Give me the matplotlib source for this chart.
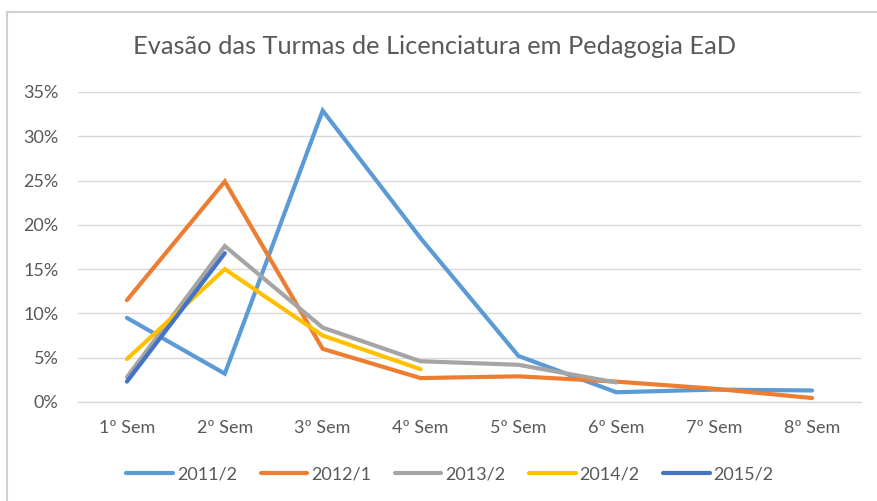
import matplotlib

matplotlib.use("Agg")
import matplotlib.pyplot as plt
from matplotlib.lines import Line2D
from matplotlib.ticker import PercentFormatter

# Evasao por semestre (%) de cada turma
semestres = ["1º Sem", "2º Sem", "3º Sem", "4º Sem", "5º Sem", "6º Sem", "7º Sem", "8º Sem"]
turmas = ["2011/2", "2012/1", "2013/2", "2014/2", "2015/2"]
evasao_2011_2 = [9.5, 3.2, 32.9, 18.5, 5.2, 1.1, 1.4, 1.3]
evasao_2012_1 = [11.5, 24.9, 6.0, 2.7, 2.9, 2.3, 1.5, 0.45]
evasao_2013_2 = [2.8, 17.6, 8.4, 4.6, 4.2, 2.2]
evasao_2014_2 = [4.85, 15.0, 7.5, 3.7]
evasao_2015_2 = [2.3, 16.8]
cores = ["#5B9BD5", "#ED7D31", "#A5A5A5", "#FFC000", "#4472C4"]

CINZA_TEXTO = "#595959"
CINZA_GRADE = "#D9D9D9"
FONTE = ["Lato", "DejaVu Sans"]

plt.rcParams["font.family"] = FONTE

W, H = 877, 501
fig = plt.figure(figsize=(W / 100, H / 100), dpi=100)
fig.patch.set_facecolor("white")

# moldura do grafico (apenas topo e esquerda aparecem)
fig.add_artist(Line2D([7 / W, 1.0], [1 - 12 / H, 1 - 12 / H], color="#D0D0D0", linewidth=1.5))
fig.add_artist(Line2D([7 / W, 7 / W], [0.0, 1 - 12 / H], color="#D0D0D0", linewidth=1.5))

ax = fig.add_axes([78 / W, 99 / H, (861 - 78) / W, (402 - 92) / H])

series = [evasao_2011_2, evasao_2012_1, evasao_2013_2, evasao_2014_2, evasao_2015_2]
for nome, valores, cor in zip(turmas, series, cores):
    ax.plot(
        range(len(valores)),
        valores,
        color=cor,
        linewidth=3.0,
        solid_capstyle="round",
        solid_joinstyle="miter",
        label=nome,
    )

ax.set_xlim(-0.5, len(semestres) - 0.5)
ax.set_ylim(0, 35)
ax.set_yticks(range(0, 36, 5))
ax.yaxis.set_major_formatter(PercentFormatter(decimals=0))
ax.set_xticks(range(len(semestres)))
ax.set_xticklabels(semestres)
ax.tick_params(axis="both", length=0, labelsize=13, labelcolor=CINZA_TEXTO)
ax.tick_params(axis="y", pad=14)
ax.tick_params(axis="x", pad=13)
ax.grid(True, axis="y", color=CINZA_GRADE, linewidth=1.0)
ax.set_axisbelow(True)
for lado in ("top", "right", "left"):
    ax.spines[lado].set_visible(False)
ax.spines["bottom"].set_color(CINZA_GRADE)
ax.spines["bottom"].set_linewidth(1.0)

fig.text(435 / W, 1 - 47 / H, "Evasão das Turmas de Licenciatura em Pedagogia EaD",
         ha="center", va="center", fontsize=18.3, color=CINZA_TEXTO)

fig.legend(
    loc="center",
    bbox_to_anchor=(450 / W, 1 - 474 / H),
    ncol=5,
    frameon=False,
    fontsize=13,
    labelcolor=CINZA_TEXTO,
    handlelength=2.6,
    handletextpad=0.2,
    columnspacing=1.3,
)

fig.savefig("out.png", dpi=100, facecolor="white")
